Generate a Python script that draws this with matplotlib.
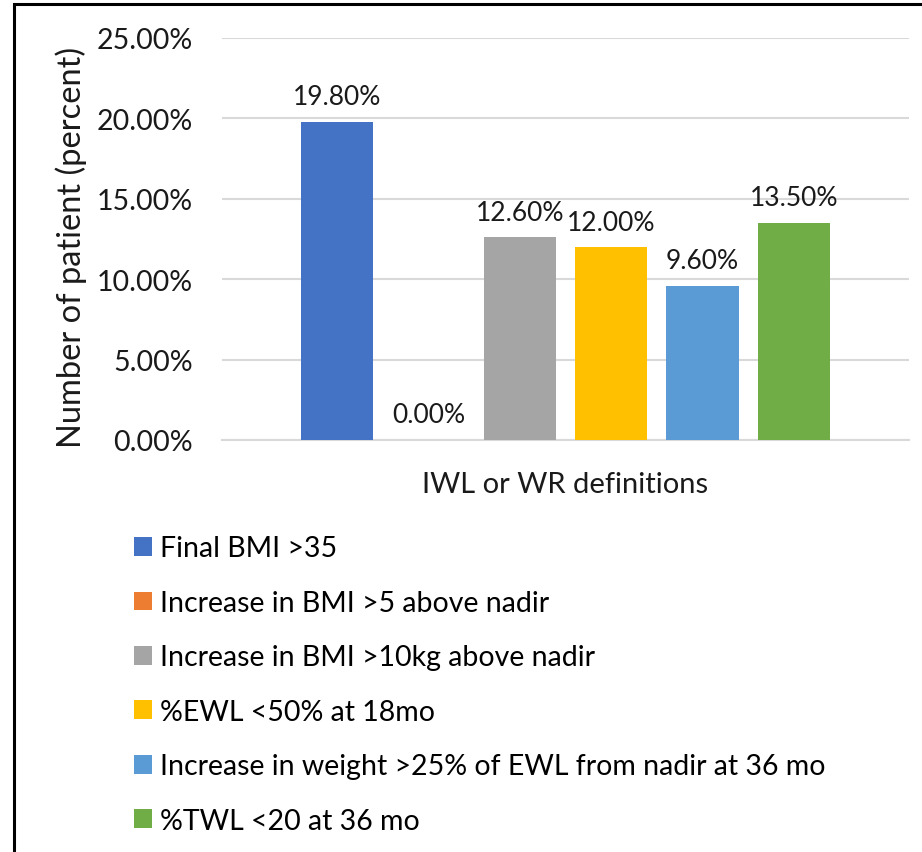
import matplotlib.pyplot as plt
from matplotlib.patches import Rectangle

categories = ["Final BMI >35",
              "Increase in BMI >5 above nadir",
              "Increase in BMI >10kg above nadir",
              "%EWL <50% at 18mo",
              "Increase in weight >25% of EWL from nadir at 36 mo",
              "%TWL <20 at 36 mo"]
values = [19.8, 0.0, 12.6, 12.0, 9.6, 13.5]
colors = ["#4472C4", "#ED7D31", "#A5A5A5", "#FFC000", "#5B9BD5", "#70AD47"]
y_ticks = [0, 5, 10, 15, 20, 25]
group_label = "IWL or WR definitions"

plt.rcParams['font.family'] = ['Lato', 'DejaVu Sans']

fig = plt.figure(figsize=(9.22, 8.53), dpi=100)
ax = fig.add_axes([222/922, 1 - 441/853, (909-222)/922, (441-39)/853])

xs = list(range(len(values)))
for x, v, c, name in zip(xs, values, colors, categories):
    ax.bar(x, v, width=0.79, color=c, label=name, zorder=3)
    ax.annotate("{0:.2f}%".format(v), (x, v), xytext=(0, 9), textcoords="offset points",
                ha="center", va="bottom", fontsize=19, color="#1a1a1a")

ax.set_xlim(-1.26, 6.26)
ax.set_ylim(0, 25)
ax.set_yticks(y_ticks)
ax.set_yticklabels(["{0:.2f}%".format(t) for t in y_ticks], fontsize=20.5)
ax.set_xticks([2.5])
ax.set_xticklabels([group_label], fontsize=21)
ax.tick_params(axis="both", length=0, colors="#1a1a1a")
ax.tick_params(axis="y", pad=21)
ax.tick_params(axis="x", pad=22)
ax.grid(True, axis="y", color="#D9D9D9", linewidth=1.5, zorder=0)
for s in ["top", "right", "left"]:
    ax.spines[s].set_visible(False)
ax.spines["bottom"].set_color("#D9D9D9")
ax.spines["bottom"].set_linewidth(1.5)

fig.text(71/922, 1 - 247/853, "Number of patient (percent)", rotation=90,
         ha="center", va="center", fontsize=23.5, color="#1a1a1a")

fig.legend(loc="upper left", bbox_to_anchor=(123/922, 1 - 525/853), frameon=False,
           fontsize=20.5, handlelength=0.63, handleheight=0.63, handletextpad=0.28,
           labelspacing=1.0, borderaxespad=0)

fig.patches.append(Rectangle((14/922, -0.1), 1.2, 1 - 5/853 + 0.1, transform=fig.transFigure,
                             fill=False, edgecolor="black", linewidth=2.2))

fig.savefig("out.png", dpi=100)
